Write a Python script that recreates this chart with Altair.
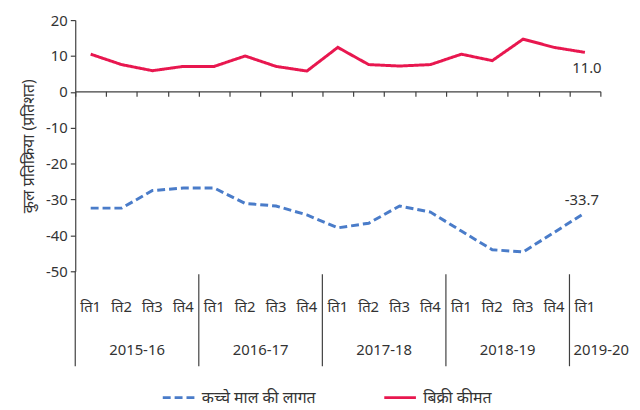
import altair as alt
import pandas as pd

# ---- data ----
quarters = ["ति1", "ति2", "ति3", "ति4"] * 4 + ["ति1"]
years = ["2015-16", "2016-17", "2017-18", "2018-19", "2019-20"]
raw_material = [-32.4, -32.4, -27.5, -26.8, -26.8, -31.1, -31.8, -34.3, -37.9,
                -36.6, -31.8, -33.5, -38.8, -44.0, -44.6, -39.2, -33.7]
selling_price = [10.5, 7.6, 5.9, 7.1, 7.1, 10.0, 7.1, 5.8, 12.4,
                 7.6, 7.2, 7.6, 10.5, 8.7, 14.7, 12.4, 11.0]
series_names = ["कच्चे माल की लागत", "बिक्री कीमत"]
y_ticks = [-50, -40, -30, -20, -10, 0, 10, 20]

# ---- styling ----
BLUE = "#4A7CC9"
PINK = "#E8174F"
AXIS = "#404040"
TEXT = "#333333"
FONT = "Noto Sans"

rows = []
for i, (a, b) in enumerate(zip(raw_material, selling_price)):
    rows.append({"pos": i + 0.5, "value": a, "series": series_names[0]})
    rows.append({"pos": i + 0.5, "value": b, "series": series_names[1]})
df = pd.DataFrame(rows)

n = len(quarters)
q_df = pd.DataFrame({"pos": [i + 0.5 for i in range(n)], "label": quarters})
year_start = [4 * k for k in range(len(years))]
year_len = [min(4, n - s) for s in year_start]
yr_df = pd.DataFrame({"start": year_start, "len": year_len, "label": years})
yr_df["center"] = yr_df["start"] + yr_df["len"] / 2
sep_df = pd.DataFrame({"pos": year_start})

W, H = 531, 254
x_scale = alt.Scale(domain=[0, n], nice=False, zero=False)
y_scale = alt.Scale(domain=[-50, 20], nice=False)

x_axis = alt.Axis(values=list(range(n + 1)), labels=False, title=None,
                  grid=False, orient="bottom", offset=-182,
                  tickSize=5, tickColor=AXIS, domainColor=AXIS,
                  tickWidth=1.2, domainWidth=1.2)
y_axis = alt.Axis(values=y_ticks, grid=False, title="कुल प्रतिक्रिया (प्रतिशत)",
                  labelExpr="toString(datum.value)", labelOverlap=False,
                  tickSize=5, tickColor=AXIS, domainColor=AXIS,
                  tickWidth=1.2, domainWidth=1.2,
                  labelFontSize=15, labelColor=TEXT, labelPadding=3,
                  titleFontSize=16, titleFontWeight="normal",
                  titleColor=TEXT, titlePadding=9)


def xq(field):
    return alt.X(field, scale=x_scale, axis=x_axis)


def yq(field):
    return alt.Y(field, scale=y_scale, axis=y_axis)


lines = alt.Chart(df).mark_line(strokeWidth=3).encode(
    x=xq("pos:Q"),
    y=yq("value:Q"),
    color=alt.Color("series:N",
                    scale=alt.Scale(domain=series_names, range=[BLUE, PINK]),
                    legend=alt.Legend(title=None, orient="none", direction="horizontal",
                                      legendX=87, legendY=364,
                                      symbolType="stroke", symbolSize=1024,
                                      symbolStrokeWidth=3, labelFontSize=16,
                                      labelColor=TEXT, labelOffset=6,
                                      columnPadding=62, labelLimit=300)),
    strokeDash=alt.StrokeDash("series:N",
                              scale=alt.Scale(domain=series_names,
                                              range=[[8, 4], [1, 0]]),
                              legend=None),
    order=alt.Order("pos:Q"),
)

last = n - 1
end_df = pd.DataFrame({"pos": [last + 0.5, last + 0.5],
                       "value": [selling_price[-1], raw_material[-1]],
                       "series": series_names[::-1]})
end_df["txt"] = [f"{v:.1f}" for v in end_df["value"]]
end_pink = alt.Chart(end_df).transform_filter(
    alt.datum.series == series_names[1]).mark_text(
    fontSize=15, color=TEXT, font=FONT, dx=2, dy=16, baseline="middle"
).encode(x=xq("pos:Q"), y=yq("value:Q"), text="txt:N")
end_blue = alt.Chart(end_df).transform_filter(
    alt.datum.series == series_names[0]).mark_text(
    fontSize=15, color=TEXT, font=FONT, dx=-3, dy=-13, baseline="middle"
).encode(x=xq("pos:Q"), y=yq("value:Q"), text="txt:N")

q_text = alt.Chart(q_df).mark_text(fontSize=15, color=TEXT, font=FONT, baseline="middle").encode(
    x=xq("pos:Q"), y=alt.value(290), text="label:N")

yr_full = alt.Chart(yr_df).transform_filter("datum.len == 4").mark_text(
    fontSize=15, color=TEXT, font=FONT, baseline="middle").encode(
    x=xq("center:Q"), y=alt.value(334), text="label:N")
yr_part = alt.Chart(yr_df).transform_filter("datum.len < 4").mark_text(
    fontSize=15, color=TEXT, font=FONT, baseline="middle", align="left", dx=4).encode(
    x=xq("start:Q"), y=alt.value(334), text="label:N")

sep_first = alt.Chart(sep_df).transform_filter("datum.pos == 0").mark_rule(
    color=AXIS, strokeWidth=1.2).encode(
    x=xq("pos:Q"), y=alt.value(H), y2=alt.value(350))
sep_rest = alt.Chart(sep_df).transform_filter("datum.pos > 0").mark_rule(
    color=AXIS, strokeWidth=1.2).encode(
    x=xq("pos:Q"), y=alt.value(257), y2=alt.value(350))

chart = alt.layer(
    lines, sep_first, sep_rest, end_pink, end_blue, q_text, yr_full, yr_part
).properties(
    width=W, height=H,
    autosize=alt.AutoSizeParams(type="none"),
    padding={"left": 68, "top": 10, "right": 32, "bottom": 135},
).configure(font=FONT).configure_view(strokeWidth=0, stroke="transparent").configure_axis(
    labelFont=FONT, titleFont=FONT, grid=False
).configure_legend(labelFont=FONT)

chart.save("out.html", embed_options={"renderer": "svg", "actions": False})
